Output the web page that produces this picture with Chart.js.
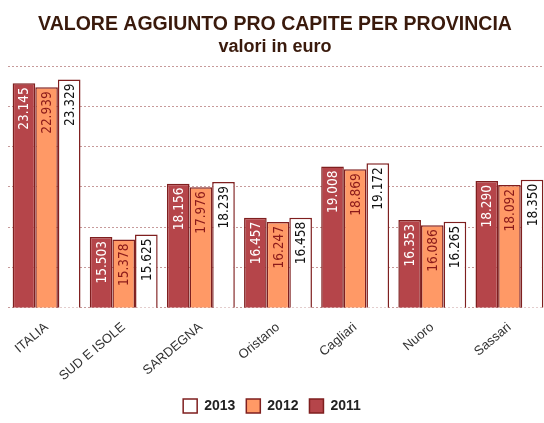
<!DOCTYPE html>
<html>
<head>
<meta charset="utf-8">
<script src="https://cdn.jsdelivr.net/npm/chart.js@4"></script>
<style>
  html, body { margin: 0; padding: 0; background: #fff; overflow: hidden; }
  #wrap { width: 544px; height: 423px; overflow: hidden; }
</style>
</head>
<body>
<div id="wrap"><canvas id="myChart" width="552" height="423"></canvas></div>
<script>
// Data
var categories = ["ITALIA", "SUD E ISOLE", "SARDEGNA", "Oristano", "Cagliari", "Nuoro", "Sassari"];
var values2011 = [23145, 15503, 18156, 16457, 19008, 16353, 18290];
var values2012 = [22939, 15378, 17976, 16247, 18869, 16086, 18092];
var values2013 = [23329, 15625, 18239, 16458, 19172, 16265, 18350];

var borderCol = "#7f1f1f";
var fontMain = "'Liberation Sans', Arial, sans-serif";

function fmt(v) {
  return v.toLocaleString("it-IT");
}

// vertical value labels inside the bars
var barLabels = {
  id: "barLabels",
  afterDatasetsDraw: function (chart) {
    var ctx = chart.ctx;
    chart.data.datasets.forEach(function (ds, i) {
      var meta = chart.getDatasetMeta(i);
      meta.data.forEach(function (bar, j) {
        ctx.save();
        ctx.translate(bar.x, bar.y + 4);
        ctx.rotate(-Math.PI / 2);
        ctx.font = "13.5px 'DejaVu Sans Condensed', 'DejaVu Sans', sans-serif";
        ctx.fillStyle = ds.labelColor;
        ctx.textAlign = "right";
        ctx.textBaseline = "middle";
        ctx.fillText(fmt(ds.data[j]), 0, 1);
        ctx.restore();
      });
    });
  }
};

// canvas is a bit wider than the window (last bar is cut), so pull the
// centred title / legend back to the visible middle
var recenter = {
  id: "recenter",
  afterLayout: function (chart) {
    chart.boxes.forEach(function (box) {
      if (box === chart.legend) {
        box.left -= 6; box.right -= 6;
      } else if (!(box instanceof Chart.Scale) && box.options && box.options.text) {
        box.left -= 3; box.right -= 3;
      }
    });
  }
};

const ctx = document.getElementById("myChart").getContext("2d");
const myChart = new Chart(ctx, {
  type: "bar",
  data: {
    labels: categories,
    datasets: [
      { label: "2011", data: values2011, backgroundColor: "#b5454a", borderColor: borderCol, borderWidth: 1.5, labelColor: "#ffffff" },
      { label: "2012", data: values2012, backgroundColor: "#ff9966", borderColor: borderCol, borderWidth: 1.5, labelColor: "#8b1a1a" },
      { label: "2013", data: values2013, backgroundColor: "#ffffff", borderColor: borderCol, borderWidth: 1.5, labelColor: "#111111" }
    ]
  },
  options: {
    responsive: false,
    animation: false,
    layout: { padding: { left: 8, right: 4, top: 0, bottom: 0 } },
    datasets: { bar: { categoryPercentage: 0.88, barPercentage: 1.0 } },
    scales: {
      x: {
        grid: { display: false },
        border: { display: false },
        ticks: {
          color: "#333",
          font: { family: fontMain, size: 13 },
          minRotation: 40,
          maxRotation: 40,
          padding: 4
        }
      },
      y: {
        min: 12000,
        max: 24000,
        ticks: { stepSize: 2000, display: false },
        grid: { color: "#c79a9a", lineWidth: 1, drawTicks: false },
        border: { display: false, dash: [2, 2] }
      }
    },
    plugins: {
      title: {
        display: true,
        text: "VALORE AGGIUNTO PRO CAPITE PER PROVINCIA",
        color: "#3a1a0c",
        font: { family: fontMain, size: 19.5, weight: "bold" },
        padding: { top: 13, bottom: 0 }
      },
      subtitle: {
        display: true,
        text: "valori in euro",
        color: "#3a1a0c",
        font: { family: fontMain, size: 18, weight: "bold" },
        padding: { top: 0, bottom: 8 }
      },
      legend: {
        position: "bottom",
        reverse: true,
        labels: {
          color: "#222",
          boxWidth: 14,
          boxHeight: 14,
          padding: 11,
          font: { family: fontMain, size: 14, weight: "bold" }
        }
      },
      tooltip: { enabled: false }
    }
  },
  plugins: [barLabels, recenter]
});
</script>
</body>
</html>
